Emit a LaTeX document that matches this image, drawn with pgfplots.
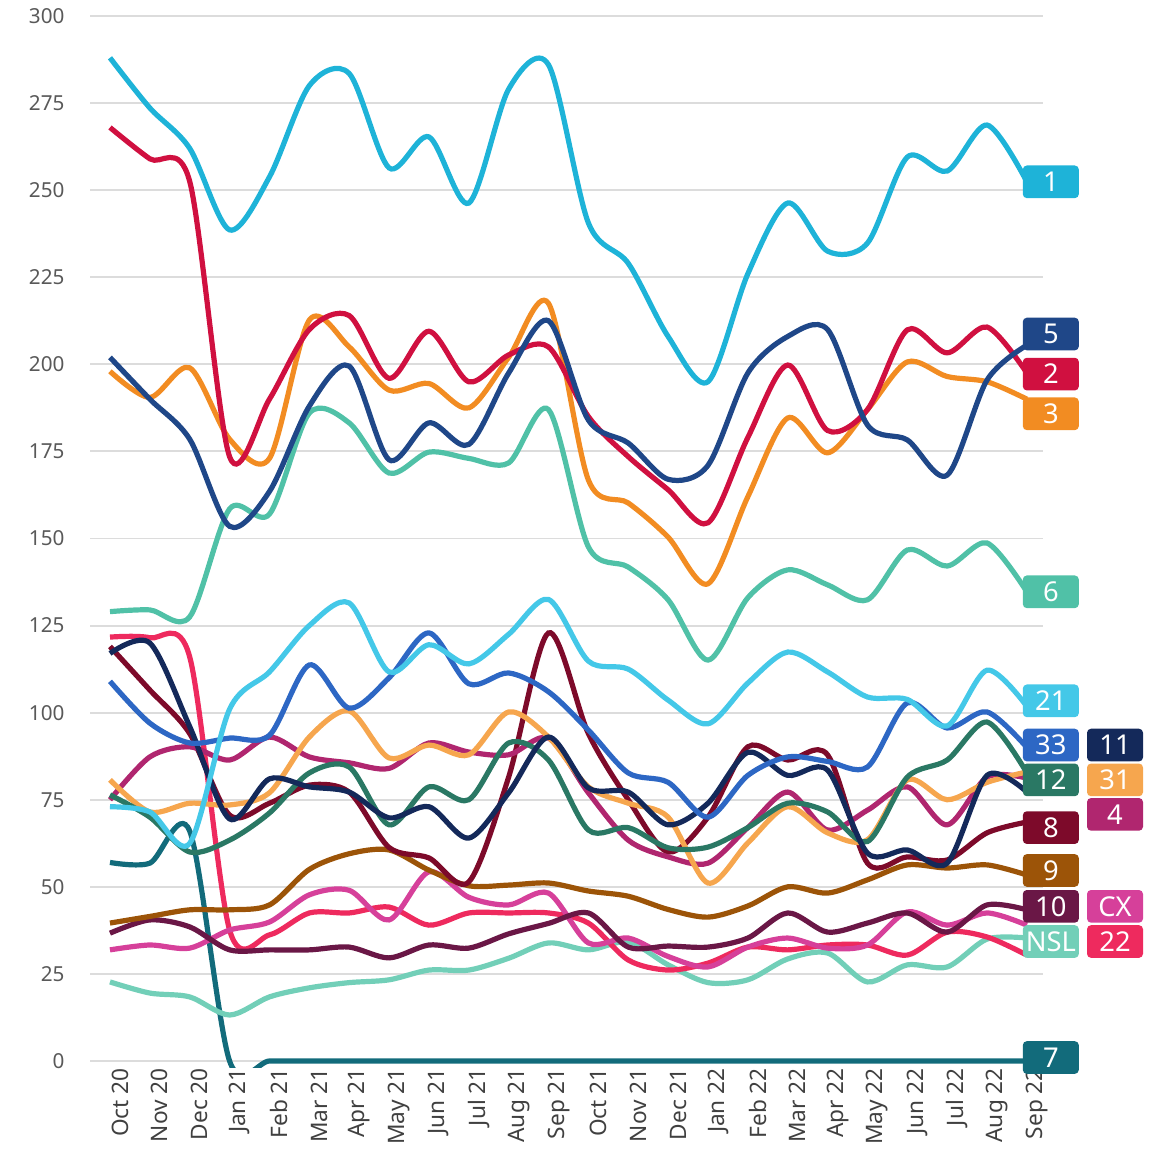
\documentclass[border=0pt]{standalone}
\usepackage{fontspec}
\setmainfont{Noto Sans}
\usepackage{pgfplots}
\pgfplotsset{compat=1.18}
\definecolor{c1}{HTML}{1EB3D8}
\definecolor{c5}{HTML}{1F4788}
\definecolor{c2}{HTML}{D01040}
\definecolor{c3}{HTML}{F28C22}
\definecolor{c6}{HTML}{50C1A7}
\definecolor{c21}{HTML}{44C8E8}
\definecolor{c33}{HTML}{2D67C4}
\definecolor{c11}{HTML}{14295A}
\definecolor{c12}{HTML}{2A7864}
\definecolor{c31}{HTML}{F6A64E}
\definecolor{c4}{HTML}{B0266F}
\definecolor{c8}{HTML}{7D0A2A}
\definecolor{c9}{HTML}{9C5408}
\definecolor{c10}{HTML}{6A1746}
\definecolor{cCX}{HTML}{D6409A}
\definecolor{cNSL}{HTML}{72CFB8}
\definecolor{c22}{HTML}{EE2A5E}
\definecolor{c7}{HTML}{126B7B}
\definecolor{gridgray}{HTML}{DCDCDC}
\definecolor{ytext}{HTML}{595959}
\definecolor{xtext}{HTML}{404040}
\tikzset{lbl/.style={rounded corners=3pt, minimum width=42pt, minimum height=24.5pt, inner sep=0pt, text=white, font=\fontsize{20.5}{24}\selectfont}}
\begin{document}
\begin{tikzpicture}
\begin{axis}[
  x=29.9pt, y=2.6125pt,
  xmin=-0.5, xmax=23.4, ymin=-2, ymax=300,
  axis line style={draw=none},
  major tick length=0pt,
  ymajorgrids, grid style={color=gridgray, line width=1.4pt},
  ytick={0,25,...,300},
  xtick={0,...,23},
  xticklabels={Oct 20,Nov 20,Dec 20,Jan 21,Feb 21,Mar 21,Apr 21,May 21,Jun 21,Jul 21,Aug 21,Sep 21,Oct 21,Nov 21,Dec 21,Jan 22,Feb 22,Mar 22,Apr 22,May 22,Jun 22,Jul 22,Aug 22,Sep 22},
  xticklabel style={rotate=90, anchor=east, inner sep=0pt, yshift=-7.5pt, text=xtext, font=\fontsize{17}{20}\selectfont},
  yticklabel style={anchor=east, inner sep=0pt, xshift=-19pt, text=ytext, font=\fontsize{15.5}{18}\selectfont},
  /pgf/number format/assume math mode=true,
  clip mode=individual,
  every axis plot/.append style={line width=3.9pt, smooth, no markers},
]
% 7
\addplot[c7] coordinates {(0,57)(1,56.8)(2,66)(3,0)(4,0)(5,0)(6,0)(7,0)(8,0)(9,0)(10,0)(11,0)(12,0)(13,0)(14,0)(15,0)(16,0)(17,0)(18,0)(19,0)(20,0)(21,0)(22,0)(23,0)};
% NSL
\addplot[cNSL] coordinates {(0,22.7)(1,19.5)(2,18.4)(3,13.2)(4,18.4)(5,21)(6,22.5)(7,23.3)(8,26.1)(9,26.1)(10,29.5)(11,33.9)(12,31.9)(13,34.2)(14,27.6)(15,22.5)(16,23.3)(17,29.3)(18,31)(19,22.7)(20,27.6)(21,27)(22,35)(23,35.3)};
% 22
\addplot[c22] coordinates {(0,121.7)(1,121.5)(2,116)(3,37.6)(4,36.2)(5,42.5)(6,42.5)(7,44.2)(8,39)(9,42.5)(10,42.5)(11,42.5)(12,39.6)(13,29)(14,26.1)(15,28.1)(16,32.7)(17,31.9)(18,33.3)(19,33.3)(20,30.4)(21,37)(22,35.6)(23,30.4)};
% CX
\addplot[cCX] coordinates {(0,31.9)(1,33.3)(2,32.4)(3,37.6)(4,39.9)(5,47.7)(6,49)(7,40.5)(8,54.3)(9,47)(10,44.8)(11,48.2)(12,33.9)(13,35.3)(14,30)(15,27)(16,32.7)(17,35.3)(18,32.4)(19,33.3)(20,42.8)(21,39)(22,42.5)(23,39)};
% 10
\addplot[c10] coordinates {(0,36.7)(1,40.5)(2,38.5)(3,31.9)(4,31.9)(5,31.9)(6,32.7)(7,29.6)(8,33.3)(9,32.4)(10,36.5)(11,39.5)(12,42.5)(13,32.7)(14,33)(15,32.7)(16,35.3)(17,42.5)(18,37)(19,39.6)(20,42.5)(21,37)(22,44.8)(23,43.4)};
% 9
\addplot[c9] coordinates {(0,39.6)(1,41.5)(2,43.4)(3,43.4)(4,44.8)(5,55)(6,59.5)(7,60.6)(8,54.8)(9,50.3)(10,50.5)(11,51.1)(12,48.8)(13,47.3)(14,43.5)(15,41.3)(16,44.5)(17,50)(18,48.2)(19,52)(20,56.3)(21,55.4)(22,56.3)(23,53.4)};
% 8
\addplot[c8] coordinates {(0,119)(1,106.5)(2,94)(3,70.6)(4,74)(5,79.2)(6,77.2)(7,61.3)(8,58.3)(9,51.4)(10,81.5)(11,122.9)(12,94)(13,75)(14,60)(15,70)(16,90.2)(17,86.4)(18,87.9)(19,56.8)(20,58.6)(21,57.7)(22,65.5)(23,68.6)};
% 4
\addplot[c4] coordinates {(0,75)(1,87.3)(2,90.2)(3,86.4)(4,93)(5,87.3)(6,85.6)(7,84)(8,91.3)(9,88.7)(10,87.9)(11,92.7)(12,77)(13,63.4)(14,58.6)(15,56.8)(16,67)(17,77.2)(18,66.3)(19,72)(20,78.7)(21,67.8)(22,81.5)(23,81.2)};
% 31
\addplot[c31] coordinates {(0,80.7)(1,71.5)(2,74)(3,73.5)(4,77)(5,93)(6,100.5)(7,87)(8,90.7)(9,87.9)(10,100.2)(11,93)(12,78.7)(13,74)(14,70)(15,51.1)(16,62.6)(17,73)(18,65.5)(19,63.5)(20,80.7)(21,75)(22,80)(23,83)};
% 12
\addplot[c12] coordinates {(0,76.4)(1,70)(2,60)(3,63.4)(4,71.2)(5,82.7)(6,84.4)(7,67.8)(8,78.7)(9,75)(10,91.3)(11,86.4)(12,66.3)(13,67)(14,61.2)(15,61.4)(16,67)(17,74)(18,71.5)(19,63)(20,81.5)(21,86.4)(22,97.3)(23,82.7)};
% 11
\addplot[c11] coordinates {(0,117)(1,120)(2,96)(3,69.5)(4,81)(5,78.7)(6,77.2)(7,69.8)(8,73)(9,64)(10,77)(11,93)(12,78.4)(13,77.2)(14,67.8)(15,74)(16,88.6)(17,82)(18,83.5)(19,59.7)(20,60.6)(21,56.8)(22,82)(23,77.2)};
% 33
\addplot[c33] coordinates {(0,109)(1,97)(2,91.3)(3,92.7)(4,93.5)(5,113.7)(6,101.3)(7,110)(8,122.9)(9,108.3)(10,111.4)(11,106)(12,95)(13,82.7)(14,80)(15,70)(16,82)(17,87.3)(18,86)(19,84.4)(20,102.8)(21,95.6)(22,100.2)(23,90)};
% 21
\addplot[c21] coordinates {(0,73)(1,71.5)(2,62.5)(3,101)(4,111.7)(5,125)(6,131.5)(7,111.7)(8,119.5)(9,114)(10,122.5)(11,132.5)(12,114.8)(13,112.5)(14,103.6)(15,96.8)(16,108.5)(17,117.4)(18,111.7)(19,104.5)(20,103.8)(21,96.2)(22,112.2)(23,101.8)};
% 6
\addplot[c6] coordinates {(0,129)(1,129.5)(2,127.5)(3,158.5)(4,157)(5,186)(6,183.2)(7,168.8)(8,174.8)(9,173)(10,171.7)(11,187)(12,147.6)(13,141.8)(14,132.4)(15,115.1)(16,133)(17,141)(18,136.7)(19,132.4)(20,146.7)(21,142.1)(22,148.7)(23,134.7)};
% 3
\addplot[c3] coordinates {(0,198)(1,190.5)(2,199)(3,178.5)(4,173)(5,212.7)(6,205)(7,192.6)(8,194.5)(9,187.5)(10,202)(11,217.5)(12,166.8)(13,160.2)(14,150.4)(15,137)(16,162)(17,184.6)(18,174.6)(19,187)(20,200.7)(21,196.5)(22,195)(23,190)};
% 2
\addplot[c2] coordinates {(0,268)(1,259)(2,252.5)(3,173.5)(4,190)(5,210)(6,214)(7,196)(8,209.5)(9,195)(10,202.7)(11,205)(12,185)(13,173.5)(14,164)(15,154.5)(16,179)(17,199.8)(18,181)(19,187)(20,209.9)(21,203.3)(22,210.7)(23,197.5)};
% 5
\addplot[c5] coordinates {(0,202)(1,190)(2,178.5)(3,153.5)(4,163.5)(5,188)(6,199.5)(7,172.6)(8,183.2)(9,177)(10,197.5)(11,212.5)(12,184)(13,177.4)(14,167)(15,171)(16,197.5)(17,208)(18,210)(19,182.6)(20,178.3)(21,168.2)(22,195.5)(23,205.5)};
% 1
\addplot[c1] coordinates {(0,288)(1,273.6)(2,262)(3,238.6)(4,253.8)(5,280)(6,283.5)(7,256.4)(8,265.3)(9,246.3)(10,279)(11,286)(12,240.6)(13,229)(14,208)(15,195)(16,226)(17,246.3)(18,232.5)(19,234.8)(20,259.5)(21,255.5)(22,268.7)(23,252.4)};
% labels
\node[lbl, fill=c1] at (axis cs:23.6,252.4) {1};
\node[lbl, fill=c5] at (axis cs:23.6,208.7) {5};
\node[lbl, fill=c2] at (axis cs:23.6,197.2) {2};
\node[lbl, fill=c3] at (axis cs:23.6,185.8) {3};
\node[lbl, fill=c6] at (axis cs:23.6,134.7) {6};
\node[lbl, fill=c21] at (axis cs:23.6,103.4) {21};
\node[lbl, fill=c33] at (axis cs:23.6,90.7) {33};
\node[lbl, fill=c11] at (axis cs:25.21,90.7) {11};
\node[lbl, fill=c12] at (axis cs:23.6,80.7) {12};
\node[lbl, fill=c31] at (axis cs:25.21,80.7) {31};
\node[lbl, fill=c4] at (axis cs:25.21,70.8) {4};
\node[lbl, fill=c8] at (axis cs:23.6,67.0) {8};
\node[lbl, fill=c9] at (axis cs:23.6,54.7) {9};
\node[lbl, fill=c10] at (axis cs:23.6,44.4) {10};
\node[lbl, fill=cCX] at (axis cs:25.21,44.4) {CX};
\node[lbl, fill=cNSL] at (axis cs:23.6,34.3) {NSL};
\node[lbl, fill=c22] at (axis cs:25.21,34.3) {22};
\node[lbl, fill=c7] at (axis cs:23.6,1.0) {7};
\coordinate (bl) at (axis cs:-2.759,-26.7);
\coordinate (tr) at (axis cs:26.11,304.6);
\end{axis}
\pgfresetboundingbox
\useasboundingbox (bl) rectangle (tr);
\end{tikzpicture}
\end{document}
